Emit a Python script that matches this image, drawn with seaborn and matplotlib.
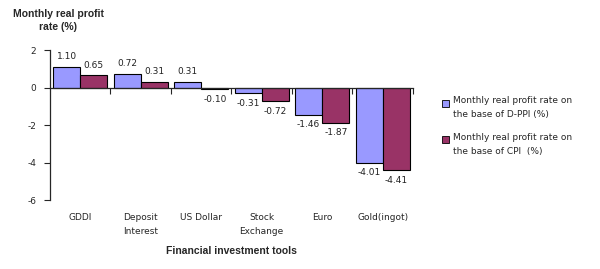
import numpy as np
import pandas as pd
import matplotlib.pyplot as plt
import matplotlib.ticker as mticker
from matplotlib.legend_handler import HandlerPatch
import seaborn as sns

tools = ["GDDI", "Deposit\nInterest", "US Dollar", "Stock\nExchange", "Euro", "Gold(ingot)"]
dppi = [1.10, 0.72, 0.31, -0.31, -1.46, -4.01]
cpi = [0.65, 0.31, -0.10, -0.72, -1.87, -4.41]
series = ["Monthly real profit rate on\nthe base of D-PPI (%)",
          "Monthly real profit rate on\nthe base of CPI  (%)"]
colors = ["#9999FF", "#993366"]

df = pd.DataFrame({
    "tool": tools * 2,
    "value": dppi + cpi,
    "series": [series[0]] * len(tools) + [series[1]] * len(tools),
})


class TopSquare(HandlerPatch):
    # legend square sits next to the first line of a two-line label
    def create_artists(self, legend, orig_handle, xdescent, ydescent,
                       width, height, fontsize, trans):
        s = 0.75 * fontsize
        p = plt.Rectangle((-xdescent, -ydescent + height - s - 0.1 * fontsize), s, s,
                          facecolor=orig_handle.get_facecolor(),
                          edgecolor="black", linewidth=0.6, transform=trans)
        return [p]


sns.set_style("white")
plt.rcParams['font.family'] = ['DejaVu Sans']
plt.rcParams['axes.unicode_minus'] = False

fig = plt.figure(figsize=(6, 2.69), dpi=100)
ax = fig.add_axes([0.0833, 0.2565, 0.605, 0.5575])

sns.barplot(data=df, x="tool", y="value", hue="series", ax=ax,
            palette=colors, width=0.9,
            edgecolor="black", linewidth=0.8, saturation=1, legend=False)

for c in ax.containers:
    ax.bar_label(c, fmt="%.2f", padding=4, fontsize=6.5, color="#222222")

ax.set_ylim(-6, 2)
ax.set_xlim(-0.5, len(tools) - 0.5)
ax.set_yticks([2, 0, -2, -4, -6])
ax.tick_params(axis="y", direction="out", length=4, width=0.8, labelsize=6.5, pad=6, left=True)

# category axis drawn at zero, labels pushed to the bottom
ax.spines["bottom"].set_position(("data", 0))
ax.spines["top"].set_visible(False)
ax.spines["right"].set_visible(False)
ax.spines["left"].set_linewidth(0.9)
ax.spines["bottom"].set_linewidth(0.9)
ax.xaxis.set_minor_locator(mticker.FixedLocator(np.arange(0.5, len(tools), 1.0)))
ax.tick_params(axis="x", which="major", length=0, labelsize=6.5, pad=90)
ax.tick_params(axis="x", which="minor", direction="out", length=4, width=0.8, bottom=True)
for lab in ax.get_xticklabels():
    lab.set_verticalalignment("top")
    lab.set_linespacing(1.8)

ax.set_xlabel("")
ax.set_ylabel("")

fig.text(0.097, 0.965, "Monthly real profit\nrate (%)", ha="center", va="top",
         fontsize=7.5, fontweight="bold", family="Liberation Sans", linespacing=1.3)
fig.text(0.385, 0.068, "Financial investment tools", ha="center", va="center",
         fontsize=7.5, fontweight="bold", family="Liberation Sans")

handles = [plt.Rectangle((0, 0), 1, 1, facecolor=col) for col in colors]
leg = fig.legend(handles, series, loc="upper left", bbox_to_anchor=(0.731, 0.655),
                 frameon=False, fontsize=6.5, handlelength=0.8, handleheight=2.9,
                 handletextpad=0.4, labelspacing=1.5, borderaxespad=0,
                 handler_map={plt.Rectangle: TopSquare()})
for t in leg.get_texts():
    t.set_linespacing(1.7)

fig.savefig("out.png", dpi=100)
